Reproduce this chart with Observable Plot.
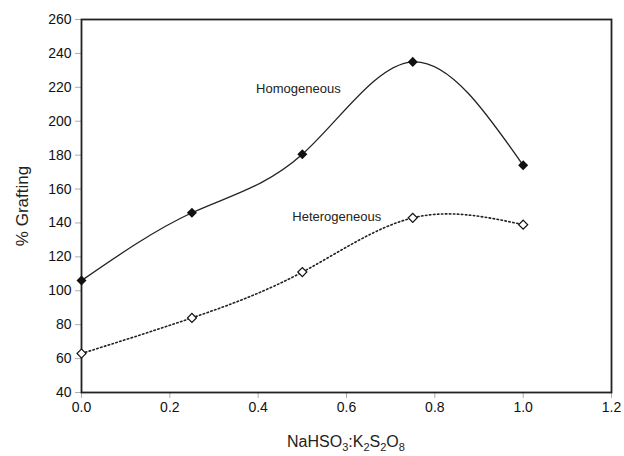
<!DOCTYPE html>
<html>
<head>
<meta charset="utf-8">
<script src="https://cdn.jsdelivr.net/npm/d3@7"></script>
<script src="https://cdn.jsdelivr.net/npm/@observablehq/plot@0.6"></script>
<style>
  html, body { margin: 0; padding: 0; background: #fff; }
  #xlabel { width: 624px; text-align: center; font-family: "Liberation Sans", Arial, sans-serif; font-size: 16px; color: #222; margin-left: 34px; padding-top: 13px; line-height: 18px; }
  #xlabel sub { font-size: 11px; }
</style>
</head>
<body>
<div id="chart"></div>
<div id="xlabel">NaHSO<sub>3</sub>:K<sub>2</sub>S<sub>2</sub>O<sub>8</sub></div>
<script>
const ratios = [0, 0.25, 0.5, 0.75, 1.0];
const homogeneous = [106, 146, 180.5, 235, 174];
const heterogeneous = [63, 84, 111, 143, 139];
const yTicks = [40, 60, 80, 100, 120, 140, 160, 180, 200, 220, 240, 260];
const xTicks = [0, 0.2, 0.4, 0.6, 0.8, 1.0, 1.2];
const labelText = ["Homogeneous", "Heterogeneous"];
const labelX = [0.491, 0.578];
const labelY = [219, 143.5];

const homData = ratios.map((x, i) => ({x, y: homogeneous[i]}));
const hetData = ratios.map((x, i) => ({x, y: heterogeneous[i]}));
const labels = labelText.map((text, i) => ({x: labelX[i], y: labelY[i], text}));

const plot = Plot.plot({
  width: 624,
  height: 420,
  marginLeft: 81,
  marginRight: 13,
  marginTop: 19,
  marginBottom: 28,
  style: {fontFamily: "Liberation Sans, Arial, sans-serif", fontSize: "14px", color: "#222"},
  x: {domain: [0, 1.2]},
  y: {domain: [40, 260]},
  marks: [
    Plot.frame({stroke: "#222", strokeWidth: 1.8}),
    Plot.axisX({ticks: xTicks, tickFormat: d => d.toFixed(1), tickSize: 6, tickPadding: 4, label: null, fontSize: 14, fill: "#111", stroke: "#111", strokeWidth: 0.35}),
    Plot.axisY({ticks: yTicks, tickSize: 6, tickPadding: 4, label: null, fontSize: 14, fill: "#111", stroke: "#111", strokeWidth: 0.35}),
    Plot.text(["% Grafting"], {frameAnchor: "left", dx: -59, rotate: -90, fontSize: 17, fill: "#222", textAnchor: "middle"}),
    Plot.line(homData, {x: "x", y: "y", curve: "natural", stroke: "#222", strokeWidth: 1.3}),
    Plot.line(hetData, {x: "x", y: "y", curve: "natural", stroke: "#222", strokeWidth: 1.6, strokeDasharray: "1.5,2.5"}),
    Plot.dot(homData, {x: "x", y: "y", symbol: "square", rotate: 45, r: 4, fill: "#111", stroke: "none"}),
    Plot.dot(hetData, {x: "x", y: "y", symbol: "square", rotate: 45, r: 3.6, fill: "white", stroke: "#111", strokeWidth: 1.2}),
    Plot.text(labels, {x: "x", y: "y", text: "text", textAnchor: "middle", fontSize: 13, fill: "#222", letterSpacing: "-0.4px"})
  ]
});
document.getElementById("chart").appendChild(plot);
</script>
</body>
</html>
